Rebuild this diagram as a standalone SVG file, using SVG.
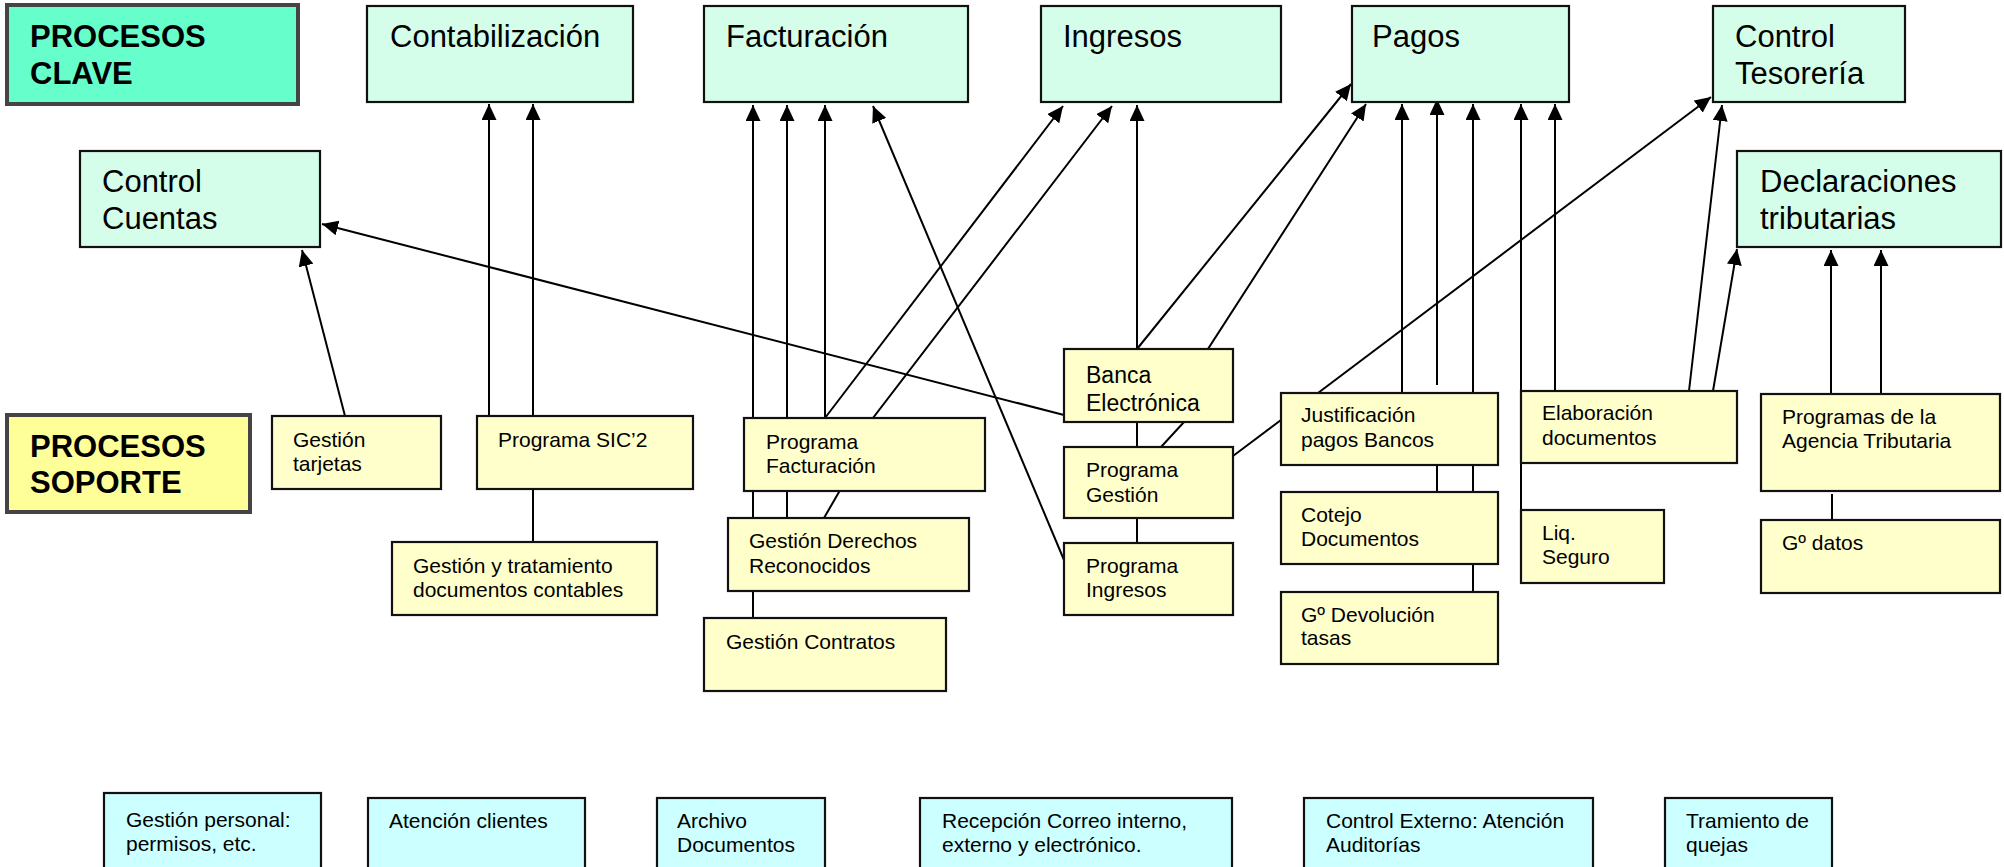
<svg xmlns="http://www.w3.org/2000/svg" width="2004" height="867" viewBox="0 0 2004 867">
<style>
text{font-family:"Liberation Sans",Arial,sans-serif;fill:#000}
.k rect{fill:#D4FEEA;stroke:#111;stroke-width:2.2}
.k text{font-size:31px}
.s rect{fill:#FFFFCC;stroke:#111;stroke-width:2.2}
.s text{font-size:21px}
.b rect{fill:#CCFFFF;stroke:#111;stroke-width:2.2}
.b text{font-size:21px}
.h text{font-size:31px;font-weight:bold}
.h rect{stroke:#444;stroke-width:4}
#connectors line,#connectors polyline{stroke:#000;stroke-width:2;fill:none}
.a{marker-end:url(#arr)}
</style>
<defs>
<marker id="arr" markerUnits="userSpaceOnUse" markerWidth="16" markerHeight="15" refX="16" refY="7.5" orient="auto">
<path d="M0,0 L16,7.5 L0,15 z" fill="#000"/>
</marker>
</defs>
<rect x="0" y="0" width="2004" height="867" fill="#fff"/>
<g id="connectors">
<line class="a" x1="345" y1="416" x2="302" y2="250"/>
<line class="a" x1="489" y1="416" x2="489" y2="104"/>
<line class="a" x1="533" y1="416" x2="533" y2="104"/>
<line x1="533" y1="489" x2="533" y2="542"/>
<line class="a" x1="1064" y1="415" x2="322" y2="224"/>
<line class="a" x1="753" y1="618" x2="753" y2="105"/>
<line class="a" x1="787" y1="518" x2="787" y2="105"/>
<line class="a" x1="825" y1="418" x2="825" y2="105"/>
<line class="a" x1="825" y1="418" x2="1063" y2="106"/>
<polyline class="a" points="824,518 839,492 873,418 1112,106"/>
<line class="a" x1="1064" y1="560" x2="873" y2="106"/>
<line class="a" x1="1137" y1="543" x2="1137" y2="105"/>
<line class="a" x1="1137" y1="349" x2="1351" y2="84"/>
<polyline class="a" points="1161,447 1185,421 1208,349 1366,104"/>
<line x1="1233" y1="456" x2="1281" y2="420"/>
<line class="a" x1="1402" y1="393" x2="1402" y2="104"/>
<line class="a" x1="1437" y1="385" x2="1437" y2="99"/>
<line x1="1437" y1="465" x2="1437" y2="492"/>
<line class="a" x1="1473" y1="592" x2="1473" y2="104"/>
<line class="a" x1="1521" y1="510" x2="1521" y2="104"/>
<line class="a" x1="1555" y1="391" x2="1555" y2="104"/>
<line class="a" x1="1318" y1="393" x2="1711" y2="97"/>
<line class="a" x1="1689" y1="391" x2="1722" y2="105"/>
<line class="a" x1="1713" y1="391" x2="1737" y2="249"/>
<line class="a" x1="1831" y1="394" x2="1831" y2="250"/>
<line class="a" x1="1881" y1="394" x2="1881" y2="250"/>
<line x1="1832" y1="494" x2="1832" y2="520"/>
</g>
<g id="n-clave" class="h"><rect x="7" y="5" width="291" height="99" fill="#66FFCC"/><text x="30" y="47">PROCESOS</text><text x="30" y="84">CLAVE</text></g>
<g id="n-contab" class="k"><rect x="367" y="6" width="266" height="96"/><text x="390" y="47">Contabilización</text></g>
<g id="n-factur" class="k"><rect x="704" y="6" width="264" height="96"/><text x="726" y="47">Facturación</text></g>
<g id="n-ingresos" class="k"><rect x="1041" y="6" width="240" height="96"/><text x="1063" y="47">Ingresos</text></g>
<g id="n-pagos" class="k"><rect x="1352" y="6" width="217" height="96"/><text x="1372" y="47">Pagos</text></g>
<g id="n-tesoreria" class="k"><rect x="1713" y="6" width="192" height="96"/><text x="1735" y="47">Control</text><text x="1735" y="84">Tesorería</text></g>
<g id="n-cuentas" class="k"><rect x="80" y="151" width="240" height="96"/><text x="102" y="192">Control</text><text x="102" y="229">Cuentas</text></g>
<g id="n-declaraciones" class="k"><rect x="1737" y="151" width="264" height="96"/><text x="1760" y="192">Declaraciones</text><text x="1760" y="229">tributarias</text></g>
<g id="n-soporte" class="h"><rect x="7" y="415" width="243" height="97" fill="#FFFF99"/><text x="30" y="457">PROCESOS</text><text x="30" y="493">SOPORTE</text></g>
<g id="n-tarjetas" class="s"><rect x="272" y="416" width="169" height="73"/><text x="293" y="447">Gestión</text><text x="293" y="471">tarjetas</text></g>
<g id="n-sic2" class="s"><rect x="477" y="416" width="216" height="73"/><text x="498" y="447">Programa SIC’2</text></g>
<g id="n-gtrat" class="s"><rect x="392" y="542" width="265" height="73"/><text x="413" y="573">Gestión y tratamiento</text><text x="413" y="597">documentos contables</text></g>
<g id="n-progfact" class="s"><rect x="744" y="418" width="241" height="73"/><text x="766" y="449">Programa</text><text x="766" y="473">Facturación</text></g>
<g id="n-gderechos" class="s"><rect x="728" y="518" width="241" height="73"/><text x="749" y="548">Gestión Derechos</text><text x="749" y="573">Reconocidos</text></g>
<g id="n-gcontratos" class="s"><rect x="704" y="618" width="242" height="73"/><text x="726" y="649">Gestión Contratos</text></g>
<g id="n-banca" class="s"><rect x="1064" y="349" width="169" height="73"/><text x="1086" y="383" style="font-size:23px">Banca</text><text x="1086" y="411" style="font-size:23px">Electrónica</text></g>
<g id="n-proggestion" class="s"><rect x="1064" y="447" width="169" height="71"/><text x="1086" y="477">Programa</text><text x="1086" y="502">Gestión</text></g>
<g id="n-progingresos" class="s"><rect x="1064" y="543" width="169" height="72"/><text x="1086" y="573">Programa</text><text x="1086" y="597">Ingresos</text></g>
<g id="n-justif" class="s"><rect x="1281" y="393" width="217" height="72"/><text x="1301" y="422">Justificación</text><text x="1301" y="447">pagos Bancos</text></g>
<g id="n-cotejo" class="s"><rect x="1281" y="492" width="217" height="72"/><text x="1301" y="522">Cotejo</text><text x="1301" y="546">Documentos</text></g>
<g id="n-gdev" class="s"><rect x="1281" y="592" width="217" height="72"/><text x="1301" y="622">Gº Devolución</text><text x="1301" y="645">tasas</text></g>
<g id="n-elab" class="s"><rect x="1521" y="391" width="216" height="72"/><text x="1542" y="420">Elaboración</text><text x="1542" y="445">documentos</text></g>
<g id="n-liq" class="s"><rect x="1521" y="510" width="143" height="73"/><text x="1542" y="540">Liq.</text><text x="1542" y="564">Seguro</text></g>
<g id="n-agencia" class="s"><rect x="1761" y="394" width="239" height="97"/><text x="1782" y="424">Programas de la</text><text x="1782" y="448">Agencia Tributaria</text></g>
<g id="n-gdatos" class="s"><rect x="1761" y="520" width="239" height="73"/><text x="1782" y="550">Gº datos</text></g>
<g id="n-personal" class="b"><rect x="104" y="793" width="217" height="95"/><text x="126" y="827">Gestión personal:</text><text x="126" y="851">permisos, etc.</text></g>
<g id="n-atencion" class="b"><rect x="368" y="798" width="217" height="90"/><text x="389" y="828">Atención clientes</text></g>
<g id="n-archivo" class="b"><rect x="657" y="798" width="168" height="90"/><text x="677" y="828">Archivo</text><text x="677" y="852">Documentos</text></g>
<g id="n-recepcion" class="b"><rect x="920" y="798" width="312" height="90"/><text x="942" y="828">Recepción Correo interno,</text><text x="942" y="852">externo y electrónico.</text></g>
<g id="n-cexterno" class="b"><rect x="1304" y="798" width="289" height="90"/><text x="1326" y="828">Control Externo: Atención</text><text x="1326" y="852">Auditorías</text></g>
<g id="n-quejas" class="b"><rect x="1665" y="798" width="167" height="90"/><text x="1686" y="828">Tramiento de</text><text x="1686" y="852">quejas</text></g>
</svg>
